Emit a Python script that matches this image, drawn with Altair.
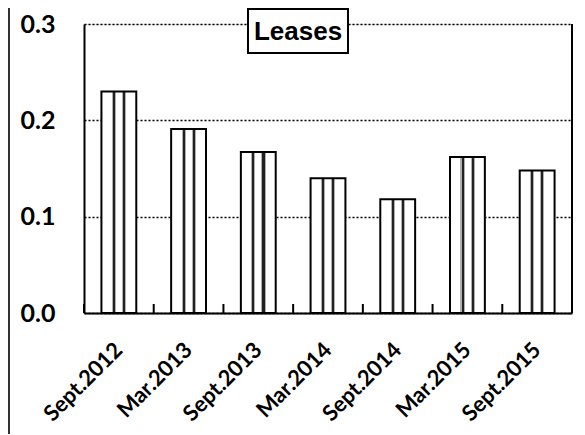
import altair as alt
import pandas as pd

periods = ["Sept.2012", "Mar.2013", "Sept.2013", "Mar.2014", "Sept.2014", "Mar.2015", "Sept.2015"]
values = [0.230, 0.191, 0.167, 0.140, 0.118, 0.162, 0.148]
y_ticks = [0.0, 0.1, 0.2, 0.3]
title_text = "Leases"

df = pd.DataFrame({"period": periods, "value": values})

W, H = 488, 289

stripe = alt.Gradient(
    gradient="linear", x1=0, x2=1, y1=0, y2=0,
    stops=[
        alt.GradientStop(offset=0.0, color="white"),
        alt.GradientStop(offset=0.30, color="white"),
        alt.GradientStop(offset=0.30, color="#b0b0b0"),
        alt.GradientStop(offset=0.33, color="#b0b0b0"),
        alt.GradientStop(offset=0.33, color="#222222"),
        alt.GradientStop(offset=0.39, color="#222222"),
        alt.GradientStop(offset=0.39, color="#b0b0b0"),
        alt.GradientStop(offset=0.42, color="#b0b0b0"),
        alt.GradientStop(offset=0.42, color="white"),
        alt.GradientStop(offset=0.59, color="white"),
        alt.GradientStop(offset=0.59, color="#b0b0b0"),
        alt.GradientStop(offset=0.62, color="#b0b0b0"),
        alt.GradientStop(offset=0.62, color="#222222"),
        alt.GradientStop(offset=0.68, color="#222222"),
        alt.GradientStop(offset=0.68, color="#b0b0b0"),
        alt.GradientStop(offset=0.71, color="#b0b0b0"),
        alt.GradientStop(offset=0.71, color="white"),
        alt.GradientStop(offset=1.0, color="white"),
    ],
)

x_enc = alt.X(
    "period:N", sort=periods, title=None,
    scale=alt.Scale(paddingInner=0, paddingOuter=0),
    axis=alt.Axis(
        labelAngle=-45, labelAlign="right", labelBaseline="middle",
        labelFont="Lato", labelFontWeight="bold", labelFontSize=22,
        labelColor="black", labelPadding=33, ticks=False, grid=False,
        domainColor="black", domainWidth=2,
    ),
)
y_enc = alt.Y(
    "value:Q", title=None,
    scale=alt.Scale(domain=[0, 0.3], nice=False, zero=True),
    axis=alt.Axis(
        values=y_ticks, format=".1f", labelFont="Lato", labelFontWeight="bold",
        labelFontSize=25, labelColor="black", labelPadding=29, ticks=False,
        domainColor="black", domainWidth=2, grid=True, gridColor="black",
        gridDash=[2, 2], gridWidth=1.4, gridOpacity=1,
    ),
)

bars = alt.Chart(df).mark_bar(
    width=alt.RelativeBandSize(0.5), fill=stripe, stroke="black", strokeWidth=2
).encode(x=x_enc, y=y_enc)

ticks = alt.Chart(df).mark_rule(color="black", strokeWidth=2).encode(
    x=alt.X("period:N", sort=periods, bandPosition=0),
    y=alt.value(H),
    y2=alt.value(H - 9),
)

right_border = alt.Chart(df).mark_rule(color="black", strokeWidth=2).encode(
    x=alt.value(W), y=alt.value(0), y2=alt.value(H)
)

frame_left = alt.Chart(df).mark_rule(color="#333333", strokeWidth=2).encode(
    x=alt.value(-75), y=alt.value(-16), y2=alt.value(430)
)

title_box = alt.Chart(df).mark_rect(
    fill="white", stroke="black", strokeWidth=2
).encode(
    x=alt.value(164), x2=alt.value(264), y=alt.value(-15), y2=alt.value(29)
)

title = alt.Chart(pd.DataFrame({"t": [title_text]})).mark_text(
    font="Liberation Sans", fontWeight="bold", fontSize=26, color="black",
    align="center", baseline="middle"
).encode(text="t:N", x=alt.value(214), y=alt.value(8))

chart = alt.layer(
    bars, ticks, right_border, frame_left, title_box, title
).properties(
    width=W, height=H,
    autosize=alt.AutoSizeParams(type="none"),
    padding={"left": 76, "top": 16, "right": 5, "bottom": 121},
).configure_view(stroke=None).configure(background="white")

chart.save("out.html", embed_options={"renderer": "svg", "actions": False})
